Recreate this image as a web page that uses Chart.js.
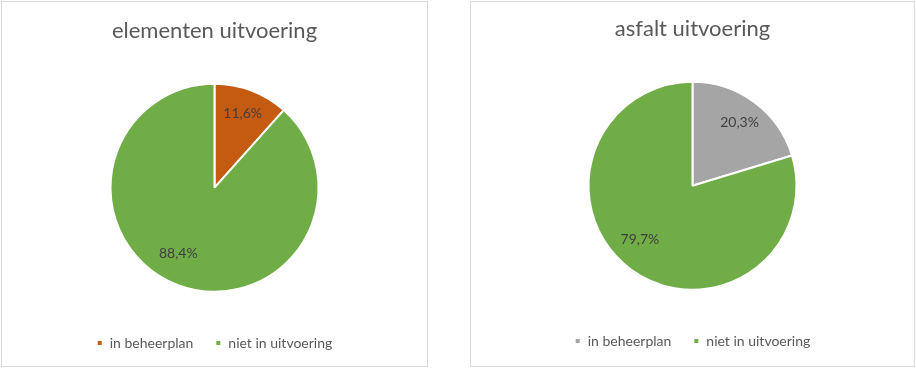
<!DOCTYPE html>
<html lang="nl">
<head>
  <meta charset="UTF-8" />
  <title>Uitvoering</title>
  <script src="https://cdn.jsdelivr.net/npm/chart.js"></script>
  <style>
    body { margin: 0; background: #fff; }
    .box { position: absolute; top: 1px; height: 364px; border: 1px solid #d9d9d9; background: #fff; }
    #box1 { left: 1px; width: 425px; }
    #box2 { left: 470px; width: 443px; }
    canvas { display: block; }
  </style>
</head>
<body>
  <div class="box" id="box1"><canvas id="elementenChart"></canvas></div>
  <div class="box" id="box2"><canvas id="asfaltChart"></canvas></div>

<script>
const categories = ['in beheerplan', 'niet in uitvoering'];
const elementenValues = [11.6, 88.4];
const asfaltValues = [20.3, 79.7];
const elementenColors = ['#C55A11', '#70AD47'];
const asfaltColors = ['#A5A5A5', '#70AD47'];

// percentages op de taartpunten
const sliceLabels = {
  id: 'sliceLabels',
  afterDatasetsDraw(chart) {
    const ctx = chart.ctx;
    const meta = chart.getDatasetMeta(0);
    const values = chart.data.datasets[0].data;
    ctx.save();
    ctx.font = '14px Lato';
    ctx.fillStyle = '#404040';
    ctx.textAlign = 'center';
    ctx.textBaseline = 'middle';
    meta.data.forEach((arc, i) => {
      const p = arc.getProps(['x', 'y', 'startAngle', 'endAngle', 'outerRadius'], true);
      let mid = (p.startAngle + p.endAngle) / 2;
      let r = p.outerRadius * 0.76;
      if (values[i] > 50) { mid += 0.14; r = p.outerRadius * 0.72; }
      const txt = values[i].toFixed(1).replace('.', ',') + '%';
      ctx.fillText(txt, p.x + Math.cos(mid) * r, p.y + Math.sin(mid) * r);
    });
    ctx.restore();
  }
};

function makePie(id, title, values, colors, width, shift) {
  const canvas = document.getElementById(id);
  canvas.width = width;
  canvas.height = 364;
  canvas.style.width = width + 'px';
  canvas.style.height = '364px';
  return new Chart(canvas.getContext('2d'), {
    type: 'pie',
    data: {
      labels: categories,
      datasets: [{
        data: values,
        backgroundColor: colors,
        borderColor: '#ffffff',
        borderWidth: 2
      }]
    },
    options: {
      responsive: false,
      animation: false,
      radius: 104,
      layout: { padding: { top: 0, bottom: 6 + shift } },
      plugins: {
        title: {
          display: true,
          text: title,
          color: '#595959',
          font: { family: 'Lato', size: 22, weight: 'normal' },
          padding: { top: 16 - shift, bottom: 17 }
        },
        legend: {
          position: 'bottom',
          labels: {
            color: '#595959',
            font: { family: 'Lato', size: 14 },
            boxWidth: 6,
            boxHeight: 6,
            padding: 22
          }
        },
        tooltip: { enabled: false }
      }
    },
    plugins: [sliceLabels]
  });
}

makePie('elementenChart', 'elementen uitvoering', elementenValues, elementenColors, 425, 0);
makePie('asfaltChart', 'asfalt uitvoering', asfaltValues, asfaltColors, 443, 2);
</script>
</body>
</html>
